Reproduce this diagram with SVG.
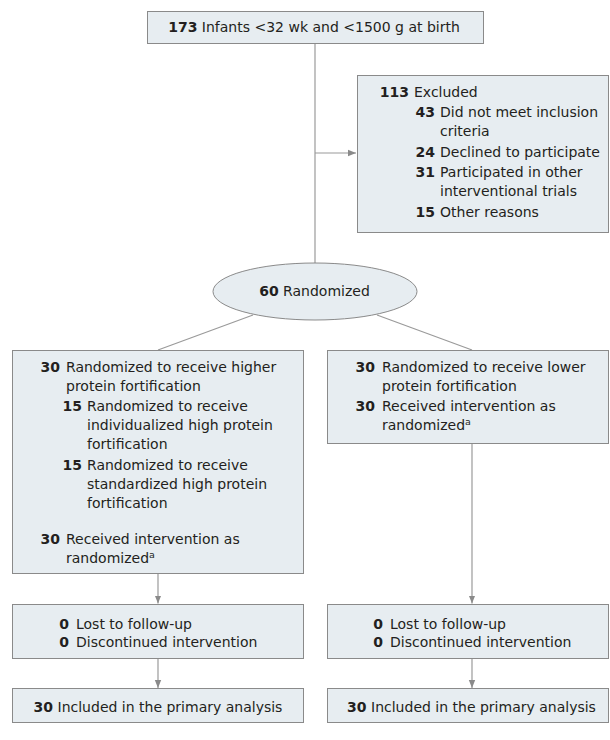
<svg xmlns="http://www.w3.org/2000/svg" width="610" height="740" viewBox="0 0 610 740">
<style>
.box{fill:#e7edf1;stroke:#8a8a8a;stroke-width:1}
.ln{stroke:#9a9a9a;stroke-width:1.2;fill:none}
text{font-family:"DejaVu Sans","Liberation Sans",sans-serif;font-size:14px;fill:#231f20}
.b{font-weight:bold}
.e{text-anchor:end;font-weight:bold}
.m{text-anchor:middle}
.sup{font-size:9.5px}
</style>
<defs>
<marker id="ah" viewBox="0 0 8 8" refX="8" refY="4" markerWidth="8" markerHeight="8" markerUnits="userSpaceOnUse" orient="auto">
<path d="M0,0.8 L8,4 L0,7.2 Z" fill="#8a8a8a"/>
</marker>
</defs>
<rect width="610" height="740" fill="#ffffff"/>
<g id="connectors">
<line class="ln" x1="315" y1="43" x2="315" y2="263"/>
<line class="ln" x1="315" y1="153" x2="356" y2="153" marker-end="url(#ah)"/>
<line class="ln" x1="253" y1="315" x2="158" y2="350"/>
<line class="ln" x1="377" y1="315" x2="472" y2="350"/>
<line class="ln" x1="158" y1="573" x2="158" y2="603.5" marker-end="url(#ah)"/>
<line class="ln" x1="158" y1="658" x2="158" y2="688" marker-end="url(#ah)"/>
<line class="ln" x1="472" y1="443" x2="472" y2="603.5" marker-end="url(#ah)"/>
<line class="ln" x1="472" y1="658" x2="472" y2="688" marker-end="url(#ah)"/>
</g>
<g id="n-infants">
<rect class="box" x="147.5" y="11.5" width="336" height="32"/>
<text class="m" x="314" y="32"><tspan class="b">173</tspan> Infants &lt;32 wk and &lt;1500 g at birth</text>
</g>
<g id="n-excluded">
<rect class="box" x="357.5" y="75.5" width="251" height="157"/>
<text class="e" x="409" y="97">113</text><text x="414" y="97">Excluded</text>
<text class="e" x="435" y="117">43</text><text x="440" y="117">Did not meet inclusion</text>
<text x="440" y="136">criteria</text>
<text class="e" x="435" y="157">24</text><text x="440" y="157">Declined to participate</text>
<text class="e" x="435" y="177">31</text><text x="440" y="177">Participated in other</text>
<text x="440" y="196">interventional trials</text>
<text class="e" x="435" y="217">15</text><text x="440" y="217">Other reasons</text>
</g>
<g id="n-randomized">
<ellipse class="box" cx="315" cy="291.5" rx="102" ry="28.5"/>
<text class="m" x="314.5" y="296"><tspan class="b">60</tspan> Randomized</text>
</g>
<g id="n-higher">
<rect class="box" x="12.5" y="350.5" width="291" height="223"/>
<text class="e" x="60" y="372">30</text><text x="66" y="372">Randomized to receive higher</text>
<text x="66" y="391">protein fortification</text>
<text class="e" x="82" y="411">15</text><text x="87" y="411">Randomized to receive</text>
<text x="87" y="430">individualized high protein</text>
<text x="87" y="449">fortification</text>
<text class="e" x="82" y="470">15</text><text x="87" y="470">Randomized to receive</text>
<text x="87" y="489">standardized high protein</text>
<text x="87" y="508">fortification</text>
<text class="e" x="60" y="544">30</text><text x="66" y="544">Received intervention as</text>
<text x="66" y="563">randomized<tspan class="sup" dy="-5">a</tspan></text>
</g>
<g id="n-lower">
<rect class="box" x="327.5" y="350.5" width="281" height="93"/>
<text class="e" x="375" y="372">30</text><text x="382" y="372">Randomized to receive lower</text>
<text x="382" y="391">protein fortification</text>
<text class="e" x="375" y="411">30</text><text x="382" y="411">Received intervention as</text>
<text x="382" y="430">randomized<tspan class="sup" dy="-5">a</tspan></text>
</g>
<g id="n-followup-left">
<rect class="box" x="12.5" y="604.5" width="291" height="54"/>
<text class="e" x="69" y="629">0</text><text x="76" y="629">Lost to follow-up</text>
<text class="e" x="69" y="647">0</text><text x="76" y="647">Discontinued intervention</text>
</g>
<g id="n-followup-right">
<rect class="box" x="327.5" y="604.5" width="281" height="54"/>
<text class="e" x="383" y="629">0</text><text x="390" y="629">Lost to follow-up</text>
<text class="e" x="383" y="647">0</text><text x="390" y="647">Discontinued intervention</text>
</g>
<g id="n-analysis-left">
<rect class="box" x="12.5" y="688.5" width="291" height="34"/>
<text class="m" x="158" y="712"><tspan class="b">30</tspan> Included in the primary analysis</text>
</g>
<g id="n-analysis-right">
<rect class="box" x="327.5" y="688.5" width="281" height="34"/>
<text class="m" x="471.5" y="712"><tspan class="b">30</tspan> Included in the primary analysis</text>
</g>
</svg>
